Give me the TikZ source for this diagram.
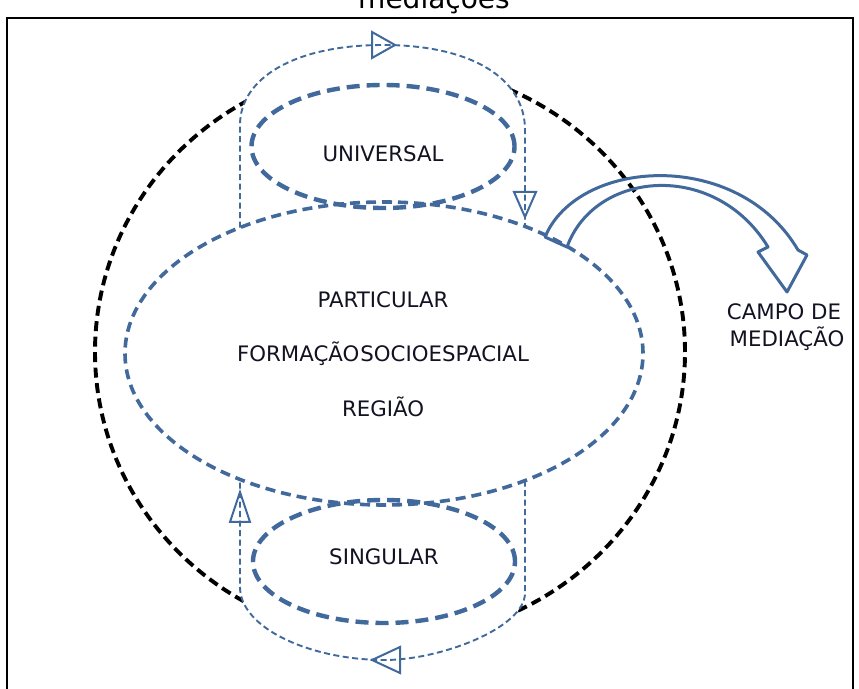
\documentclass[tikz,border=0pt]{standalone}
\usepackage{fontspec}
\setmainfont{DejaVu Sans}
\usetikzlibrary{shapes.geometric}
\definecolor{bl}{HTML}{41699B}
\definecolor{tx}{HTML}{121222}
\begin{document}
\begin{tikzpicture}[x=1pt,y=1pt,
  lbl/.style={font=\fontsize{21.3}{24}\selectfont, text=tx, anchor=base, inner sep=0},
  thickdash/.style={draw=bl, line width=4.4, dash pattern=on 13 off 7},
  middash/.style={draw=bl, line width=3.6, dash pattern=on 10 off 6},
  thindash/.style={draw=bl, line width=1.9, dash pattern=on 6 off 3.5},
  blackdash/.style={draw=black, line width=3.9, dash pattern=on 10 off 5.5},
  tri/.style={draw=bl, line width=2, solid, line join=miter},
  ell/.style={ellipse, inner sep=0, outer sep=0},
]
\useasboundingbox (0,0) rectangle (859,688);
\fill[white] (0,0) rectangle (859,688);
% title (cut off by the page edge, as in the reference) and frame
\node[font=\fontsize{28}{30}\selectfont, anchor=base, inner sep=0] (title) at (434,679) {mediações};
\draw[line width=2] (7,-20) rectangle (853,670);
% outer black circle
\node[ell, blackdash, minimum width=590, minimum height=574] (outer) at (390,336) {};
% loop end points on the main ellipse
\coordinate (ul) at (240,460.4);
\coordinate (ur) at (525,461.6);
\coordinate (ll) at (240,208.6);
\coordinate (lr) at (525,207.4);
% white regions of the loops hiding the black circle
\fill[white] (ul) -- (240,563) .. controls (240,610) and (295,643) .. (383,643)
   .. controls (471,643) and (525,610) .. (525,558) -- (ur) -- (525,420) -- (240,420) -- cycle;
\fill[white] (lr) -- (525,95) .. controls (525,60) and (440,28) .. (385,28)
   .. controls (310,28) and (240,60) .. (240,101) -- (ll) -- (240,250) -- (525,250) -- cycle;
% ellipses
\node[ell, middash, minimum width=518, minimum height=303] (part) at (384,334.5) {};
\node[ell, thickdash, minimum width=263, minimum height=123] (univ) at (383,541.5) {};
\node[ell, thickdash, minimum width=262, minimum height=123] (sing) at (384,126.5) {};
% loops
\draw[thindash] (ul) -- (240,563) .. controls (240,610) and (295,643) .. (383,643)
   .. controls (471,643) and (525,610) .. (525,558) -- (ur);
\draw[thindash] (lr) -- (525,95) .. controls (525,60) and (440,28) .. (385,28)
   .. controls (310,28) and (240,60) .. (240,101) -- (ll);
% open arrowheads on the loops
\draw[tri] (395,643) -- (372,656) -- (372,630) -- cycle;
\draw[tri] (525,471) -- (514,496) -- (536,496) -- cycle;
\draw[tri] (372,28) -- (400,41) -- (400,15) -- cycle;
\draw[tri] (240,196) -- (230,166) -- (250,166) -- cycle;
% big curved arrow
\draw[draw=bl, line width=3, line join=round] (545,451) -- (567,441)
   .. controls (595,518) and (715,528) .. (768,441) -- (758,436) -- (787,396)
   -- (807,433) -- (798,438) .. controls (738,540) and (578,530) .. (545,451) -- cycle;
% texts
\node[lbl] (univt) at (383,526) {UNIVERSAL};
\node[lbl] (partt1) at (383,380) {PARTICULAR};
\node[lbl] (partt2) at (383,326) {FORMAÇÃO\hspace{0.05em}SOCIOESPACIAL};
\node[lbl] (partt3) at (383,271) {REGIÃO};
\node[lbl] (singt) at (384,123) {SINGULAR};
\node[lbl] (campo1) at (784,368) {CAMPO DE};
\node[lbl] (campo2) at (787,341) {MEDIAÇÃO};
\end{tikzpicture}
\end{document}
